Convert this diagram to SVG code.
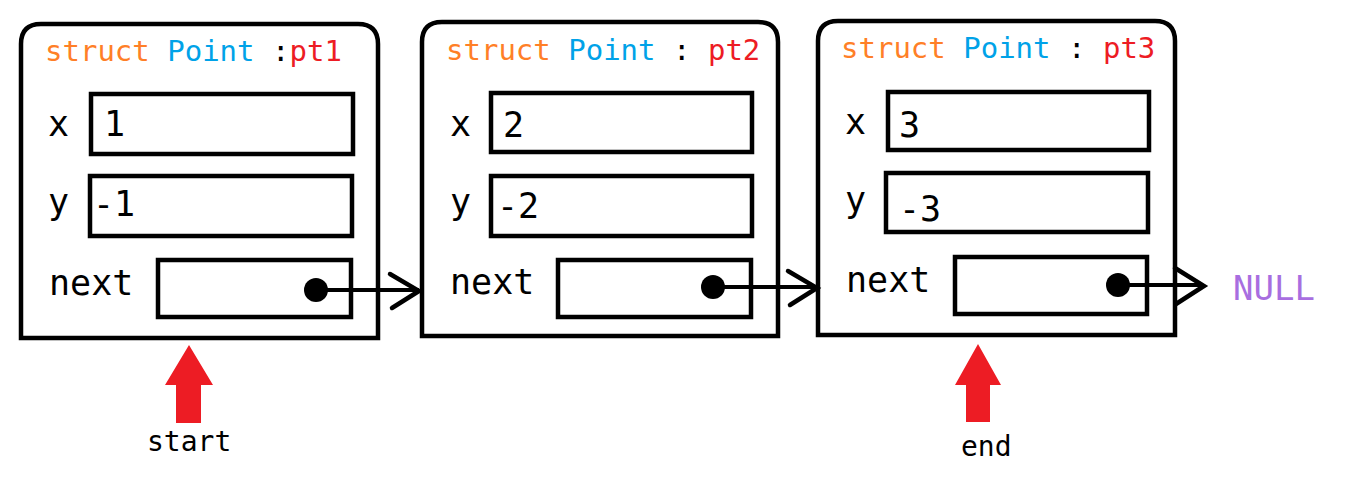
<svg xmlns="http://www.w3.org/2000/svg" width="1346" height="480" viewBox="0 0 1346 480">
<style>
.box{fill:#fff;stroke:#000;stroke-width:4.5}
.f{fill:#fff;stroke:#000;stroke-width:4.5}
text{font-family:"DejaVu Sans Mono","Liberation Mono",monospace}
.t{font-size:29px}
.l{font-size:35px;fill:#000}
.o{fill:#ff7f27}.b{fill:#00a2e8}.r{fill:#ed1c24}
.c{stroke:#000;stroke-width:4;fill:none}
.ah{stroke:#000;stroke-width:4.5;fill:none;stroke-linecap:round}
.red{fill:#ed1c24}
.s{font-size:28px;fill:#000}
</style>
<g id="pt1">
<path class="box" d="M21 338 V44 Q21 24 41 24 H358 Q378 24 378 44 V338 Z"/>
<text class="t" x="45" y="61"><tspan class="o">struct</tspan> <tspan class="b">Point</tspan> <tspan fill="#000">:</tspan><tspan class="r">pt1</tspan></text>
<text class="l" x="48" y="136">x</text><rect class="f" x="91" y="94" width="262" height="60"/><text class="l" x="104" y="136">1</text>
<text class="l" x="48" y="214">y</text><rect class="f" x="90" y="176" width="262" height="60"/><text class="l" x="93" y="216">-1</text>
<text class="l" x="49" y="295">next</text><rect class="f" x="158" y="260" width="193" height="57"/>
</g>
<g id="pt2">
<path class="box" d="M422 336 V42 Q422 22 442 22 H758 Q778 22 778 42 V336 Z"/>
<text class="t" x="446" y="60"><tspan class="o">struct</tspan> <tspan class="b">Point</tspan> <tspan fill="#000">:</tspan> <tspan class="r">pt2</tspan></text>
<text class="l" x="450" y="136">x</text><rect class="f" x="491" y="93" width="261" height="59"/><text class="l" x="503" y="137">2</text>
<text class="l" x="450" y="214">y</text><rect class="f" x="491" y="176" width="261" height="60"/><text class="l" x="497" y="218">-2</text>
<text class="l" x="450" y="294">next</text><rect class="f" x="558" y="260" width="193" height="57"/>
</g>
<g id="pt3">
<path class="box" d="M818 335 V41 Q818 21 838 21 H1155 Q1175 21 1175 41 V335 Z"/>
<text class="t" x="841" y="58"><tspan class="o">struct</tspan> <tspan class="b">Point</tspan> <tspan fill="#000">:</tspan> <tspan class="r">pt3</tspan></text>
<text class="l" x="845" y="134">x</text><rect class="f" x="888" y="92" width="261" height="58"/><text class="l" x="899" y="137">3</text>
<text class="l" x="845" y="212">y</text><rect class="f" x="886" y="173" width="262" height="59"/><text class="l" x="899" y="221">-3</text>
<text class="l" x="846" y="292">next</text><rect class="f" x="955" y="257" width="192" height="57"/>
</g>
<g id="connectors">
<circle cx="316" cy="290" r="12"/><path class="c" d="M316 290 H419"/><path class="ah" d="M390 274 L419 291 L392 308"/>
<circle cx="713" cy="287" r="12"/><path class="c" d="M713 287 H817"/><path class="ah" d="M788 271 L817 288 L790 305"/>
<circle cx="1118" cy="285" r="12"/><path class="c" d="M1118 285 H1203"/><path class="ah" d="M1175 268 L1204 286 L1176 304"/>
</g>
<text x="1233" y="300" style="font-size:34px;fill:#a86ee0">NULL</text>
<g id="start">
<polygon class="red" points="189,345 213,385 201,385 201,423 176,423 176,385 165,385"/>
<text class="s" x="147" y="451">start</text>
</g>
<g id="end">
<polygon class="red" points="978,344 1001,385 990,385 990,422 966,422 966,385 955,385"/>
<text class="s" x="961" y="456">end</text>
</g>
</svg>
